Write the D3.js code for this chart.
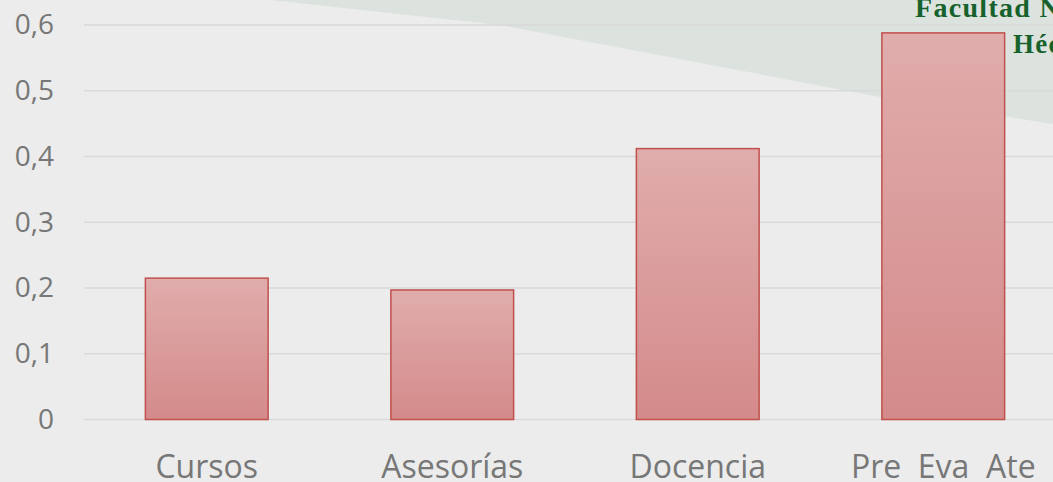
<!DOCTYPE html>
<html>
<head>
<meta charset="utf-8">
<script src="https://cdn.jsdelivr.net/npm/d3@7"></script>
<style>
  body { margin: 0; background: #ebeceb; }
  svg { display: block; }
</style>
</head>
<body>
<script>
const categories = ['Cursos', 'Asesorías', 'Docencia', 'Pre  Eva  Ate'];
const values = [0.215, 0.197, 0.412, 0.588];
const yTicks = [0, 0.1, 0.2, 0.3, 0.4, 0.5, 0.6];

const width = 1053;
const height = 482;
const margin = {left: 84, top: 25, right: -13, bottom: 62.5};

const svg = d3.select('body').append('svg')
    .attr('width', width)
    .attr('height', height);

// gradient for bars
const defs = svg.append('defs');
const grad = defs.append('linearGradient')
    .attr('id', 'barGrad')
    .attr('x1', 0).attr('y1', 0).attr('x2', 0).attr('y2', 1);
grad.append('stop').attr('offset', '0%').attr('stop-color', '#e0adac');
grad.append('stop').attr('offset', '100%').attr('stop-color', '#d48a8a');

// background and the diagonal band from the slide
svg.append('rect')
    .attr('width', width).attr('height', height)
    .attr('fill', '#ebeceb');
svg.append('path')
    .attr('d', 'M270,0 L500,25 L880,97 L1053,124 L1053,0 Z')
    .attr('fill', '#dce3df');

// slide header text (runs off the right edge, as on the slide)
svg.append('text')
    .attr('x', 915).attr('y', 17)
    .attr('font-family', '"Liberation Serif", serif')
    .attr('font-weight', 'bold')
    .attr('font-size', 28)
    .attr('letter-spacing', 1.3)
    .attr('fill', '#17622c')
    .text('Facultad Nacional de Salud Pública');
svg.append('text')
    .attr('x', 1013).attr('y', 53)
    .attr('font-family', '"Liberation Serif", serif')
    .attr('font-weight', 'bold')
    .attr('font-size', 27)
    .attr('letter-spacing', 1.3)
    .attr('fill', '#17622c')
    .text('Héctor Abad Gómez');

const x = d3.scaleBand()
    .domain(categories)
    .range([margin.left, width - margin.right])
    .paddingInner(0.5)
    .paddingOuter(0.25);

const y = d3.scaleLinear()
    .domain([0, 0.6])
    .range([height - margin.bottom, margin.top]);

// gridlines
svg.append('g')
    .selectAll('line')
    .data(yTicks)
    .enter()
    .append('line')
        .attr('x1', margin.left)
        .attr('x2', width)
        .attr('y1', d => y(d))
        .attr('y2', d => y(d))
        .attr('stroke', '#d9d9d9')
        .attr('stroke-width', 1.5);

// y axis labels
const yAxis = d3.axisLeft(y)
    .tickValues(yTicks)
    .tickSize(0)
    .tickPadding(30)
    .tickFormat(d => d === 0 ? '0' : d3.format('.1f')(d).replace('.', ','));

svg.append('g')
    .attr('transform', `translate(${margin.left}, 0)`)
    .call(yAxis)
    .call(g => g.select('.domain').remove())
    .selectAll('text')
        .attr('font-family', '"Open Sans", sans-serif')
        .attr('font-size', 28)
        .attr('fill', '#777777');

// bars
svg.append('g')
    .selectAll('rect')
    .data(values)
    .enter()
    .append('rect')
        .attr('x', (d, i) => x(categories[i]))
        .attr('y', d => y(d))
        .attr('width', x.bandwidth())
        .attr('height', d => y(0) - y(d))
        .attr('fill', 'url(#barGrad)')
        .attr('stroke', '#c0504d')
        .attr('stroke-width', 1.5);

// category labels
const xAxis = d3.axisBottom(x).tickSize(0).tickPadding(0);
svg.append('g')
    .attr('transform', `translate(0, ${y(0)})`)
    .call(xAxis)
    .call(g => g.select('.domain').remove())
    .selectAll('text')
        .attr('dy', null)
        .attr('y', 58.5)
        .attr('font-family', '"Open Sans", sans-serif')
        .attr('font-size', 32)
        .attr('fill', '#777777')
        .style('white-space', 'pre');
</script>
</body>
</html>
